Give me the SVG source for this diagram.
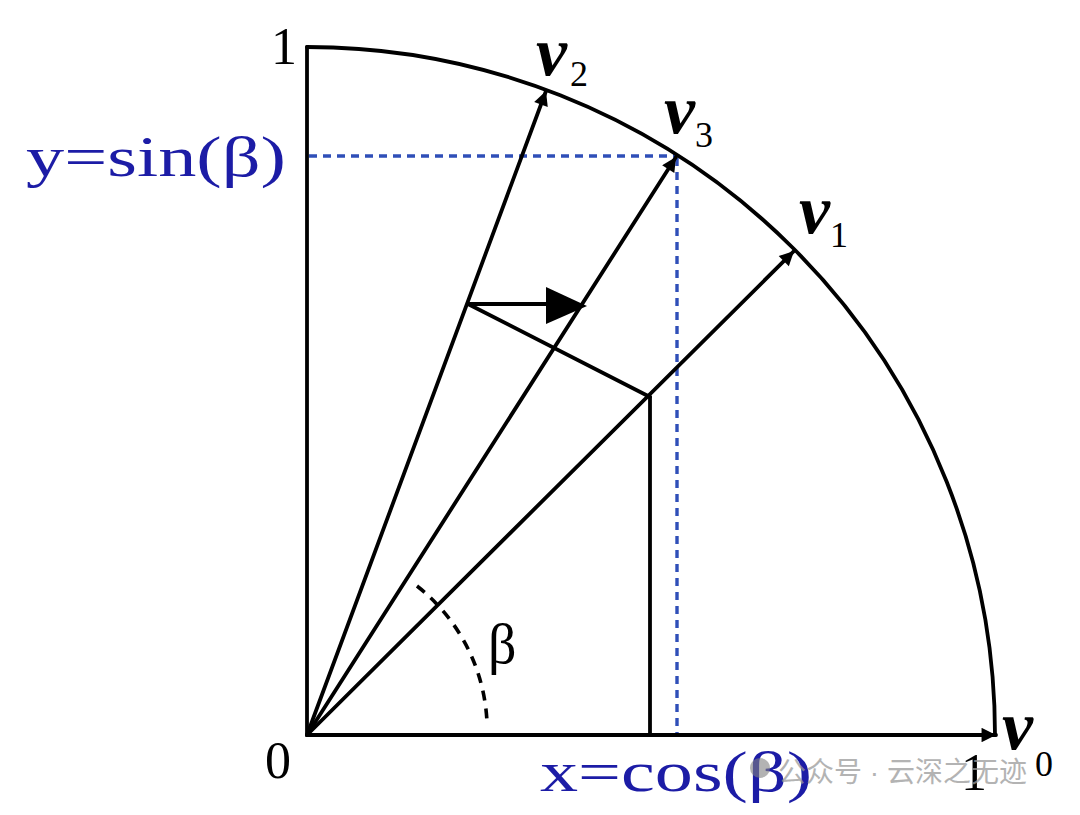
<svg xmlns="http://www.w3.org/2000/svg" width="1080" height="815" viewBox="0 0 1080 815">
<style>
.ln{stroke:#000;stroke-width:3.8;fill:none;stroke-linecap:round}
.dash{stroke:#2f4fb8;stroke-width:3.4;fill:none;stroke-dasharray:8 6}
.lbl{font-family:"Liberation Serif",serif;fill:#000}
.blue{font-family:"Liberation Serif",serif;fill:#1c1ca6}
.vec{font-family:"Liberation Serif",serif;font-weight:bold;font-style:italic;fill:#000}
.wm{font-family:"Liberation Sans","Noto Sans CJK SC",sans-serif;fill:#9a9a9a;opacity:0.75}
</style>
<defs>
<marker id="ah" viewBox="0 0 10 10" refX="10" refY="5" markerWidth="4.3" markerHeight="3.8" orient="auto" markerUnits="strokeWidth">
<path d="M0,0 L10,5 L0,10 z" fill="#000"/>
</marker>
</defs>
<rect width="1080" height="815" fill="#fff"/>
<g id="guides">
<path class="dash" d="M309 156 H677"/>
<path class="dash" d="M677 158 V733"/>
</g>
<g id="axes">
<path class="ln" d="M307 47 V735"/>
<path class="ln" d="M307 47 A688 688 0 0 1 995 735"/>
<path class="ln" d="M307 735 H996" marker-end="url(#ah)"/>
</g>
<g id="connectors">
<path class="ln" d="M307 735 L546 91" marker-end="url(#ah)"/>
<path class="ln" d="M307 735 L676 157" marker-end="url(#ah)"/>
<path class="ln" d="M307 735 L794 251" marker-end="url(#ah)"/>
<path class="ln" d="M468 304 L650 397"/>
<path class="ln" d="M650 397 V735"/>
<path class="ln" d="M468 304 H555"/>
<path d="M546 287 L587 306 L546 324 z" fill="#000"/>
<path d="M417 586 A184 184 0 0 1 487 722" stroke="#000" stroke-width="3.6" fill="none" stroke-dasharray="10 8"/>
</g>
<g id="labels">
<text class="lbl" x="271" y="64" font-size="52">1</text>
<text class="lbl" x="265" y="778" font-size="52">0</text>
<text class="lbl" x="961" y="790" font-size="52">1</text>
<text class="lbl" x="488" y="663" font-size="56">β</text>
<text class="blue" x="26" y="176" font-size="57" textLength="260" lengthAdjust="spacingAndGlyphs">y=sin(β)</text>
<text class="blue" x="540" y="791" font-size="57" textLength="272" lengthAdjust="spacingAndGlyphs">x=cos(β)</text>
</g>
<g id="v2"><text class="vec" x="536" y="75" font-size="70">v</text><text class="lbl" x="570" y="86" font-size="36">2</text></g>
<g id="v3"><text class="vec" x="664" y="133" font-size="70">v</text><text class="lbl" x="695" y="147" font-size="36">3</text></g>
<g id="v1"><text class="vec" x="799" y="233" font-size="70">v</text><text class="lbl" x="830" y="247" font-size="36">1</text></g>
<g id="v0"><text class="vec" x="1002" y="749" font-size="70">v</text><text class="lbl" x="1035" y="776" font-size="36">0</text></g>
<g id="watermark">
<circle cx="760" cy="768" r="10" fill="#808080" opacity="0.6"/>
<text class="wm" x="778" y="782" font-size="28">公众号 · 云深之无迹</text>
</g>
</svg>
